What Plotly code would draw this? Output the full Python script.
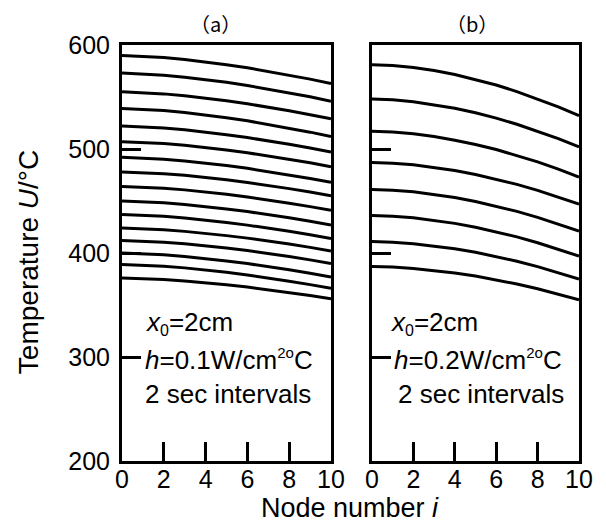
import plotly.graph_objects as go

# ---------------- data ----------------
nodes = [0, 1, 2, 3, 4, 5, 6, 7, 8, 9, 10]
x_ticks = [0, 2, 4, 6, 8, 10]
y_ticks = [200, 300, 400, 500, 600]

# panel (a): h = 0.1 W/cm2C, one curve every 2 s
a01 = [590, 589.3, 588, 586.1, 583.8, 581.1, 578.1, 574.7, 571.1, 567.2, 563]
a02 = [573, 572.3, 571, 569.1, 566.8, 564.1, 561.1, 557.7, 554.1, 550.2, 546]
a03 = [555, 554.3, 553, 551.2, 549, 546.4, 543.5, 540.3, 536.8, 533, 529]
a04 = [539, 538.3, 537, 535.1, 532.8, 530.1, 527.1, 523.7, 520.1, 516.2, 512]
a05 = [522, 521.4, 520.1, 518.4, 516.2, 513.8, 511, 507.9, 504.5, 500.9, 497]
a06 = [507, 506.4, 505.2, 503.5, 501.5, 499.1, 496.4, 493.4, 490.2, 486.7, 483]
a07 = [492, 491.4, 490.2, 488.5, 486.5, 484.1, 481.4, 478.4, 475.2, 471.7, 468]
a08 = [478, 477.4, 476.3, 474.7, 472.7, 470.4, 467.8, 465, 461.9, 458.6, 455]
a09 = [464, 463.4, 462.3, 460.7, 458.7, 456.4, 453.8, 451, 447.9, 444.6, 441]
a10 = [450, 449.4, 448.3, 446.7, 444.7, 442.4, 439.8, 437, 433.9, 430.6, 427]
a11 = [437, 436.4, 435.3, 433.7, 431.7, 429.4, 426.8, 424, 420.9, 417.6, 414]
a12 = [424, 423.5, 422.3, 420.8, 418.9, 416.7, 414.3, 411.6, 408.6, 405.4, 402]
a13 = [412, 411.5, 410.3, 408.8, 406.9, 404.7, 402.3, 399.6, 396.6, 393.4, 390]
a14 = [400, 399.4, 398.3, 396.7, 394.7, 392.4, 389.8, 387, 383.9, 380.6, 377]
a15 = [389, 388.4, 387.3, 385.7, 383.7, 381.4, 378.8, 376, 372.9, 369.6, 366]
a16 = [376, 375.5, 374.5, 373.1, 371.4, 369.4, 367.2, 364.7, 362, 359.1, 356]

# panel (b): h = 0.2 W/cm2C, one curve every 2 s
b01 = [581, 580.2, 578.3, 575.4, 571.6, 566.9, 561.5, 555.2, 548.2, 540.5, 532]
b02 = [548, 547.3, 545.5, 542.7, 539.2, 534.8, 529.7, 523.8, 517.2, 510, 502]
b03 = [517, 516.3, 514.6, 512, 508.5, 504.4, 499.5, 493.8, 487.6, 480.6, 473]
b04 = [487, 486.4, 484.8, 482.4, 479.3, 475.5, 471.1, 466, 460.2, 453.9, 447]
b05 = [461, 460.4, 458.8, 456.4, 453.3, 449.5, 445.1, 440, 434.2, 427.9, 421]
b06 = [436, 435.4, 433.8, 431.5, 428.5, 424.8, 420.4, 415.5, 409.9, 403.7, 397]
b07 = [411, 410.4, 409, 406.9, 404.1, 400.7, 396.6, 392.1, 386.9, 381.2, 375]
b08 = [387, 386.5, 385.2, 383.3, 380.8, 377.8, 374.2, 370.2, 365.6, 360.5, 355]

curves_a = [a01, a02, a03, a04, a05, a06, a07, a08,
            a09, a10, a11, a12, a13, a14, a15, a16]
curves_b = [b01, b02, b03, b04, b05, b06, b07, b08]

SUB0 = "<sub><span style='font-size:16px'>0</span></sub>"
SUP = "<sup><span style='font-size:15px'>2o</span></sup>"
lines_a = ["<i>x</i>" + SUB0 + "=2cm", "<i>h</i>=0.1W/cm" + SUP + "C", "2 sec intervals"]
lines_b = ["<i>x</i>" + SUB0 + "=2cm", "<i>h</i>=0.2W/cm" + SUP + "C", "2 sec intervals"]
text_y = [333, 298, 264]
text_xa = [1.0, 1.0, 1.0]
text_xb = [0.75, 0.95, 1.14]

# ---------------- figure ----------------
# the page body keeps its default 8 px margin, so the figure is 8 px smaller
FONT = "Liberation Sans, Arial, sans-serif"
fig = go.Figure()

for c in curves_a:
    fig.add_trace(go.Scatter(x=nodes, y=c, mode="lines", xaxis="x", yaxis="y",
                             line=dict(color="black", width=3), showlegend=False,
                             hoverinfo="skip"))
for c in curves_b:
    fig.add_trace(go.Scatter(x=nodes, y=c, mode="lines", xaxis="x2", yaxis="y2",
                             line=dict(color="black", width=3), showlegend=False,
                             hoverinfo="skip"))

axis_common = dict(showline=True, linecolor="black", linewidth=3, mirror=True,
                   showgrid=False, zeroline=False, ticks="inside", ticklen=19,
                   tickwidth=3, tickcolor="black",
                   tickfont=dict(family=FONT, size=25, color="black"))

fig.update_layout(
    width=598, height=518,
    margin=dict(l=114, r=27, t=37, b=65, autoexpand=False),
    paper_bgcolor="white", plot_bgcolor="white",
    xaxis=dict(domain=[0, 0.4573], range=[0, 10], tickvals=x_ticks,
               anchor="y", ticklabelstandoff=-6, **axis_common),
    yaxis=dict(domain=[0, 1], range=[200, 600], tickvals=y_ticks,
               anchor="x", ticklabelstandoff=4, **axis_common),
    xaxis2=dict(domain=[0.547, 1], range=[0, 10], tickvals=x_ticks,
                anchor="y2", ticklabelstandoff=-6, **axis_common),
    yaxis2=dict(domain=[0, 1], range=[200, 600], tickvals=y_ticks,
                anchor="x2", showticklabels=False, **axis_common),
)

ann = []
for t, xx, yy in zip(lines_a, text_xa, text_y):
    ann.append(dict(x=xx, y=yy, xref="x", yref="y", text=t, showarrow=False,
                    xanchor="left", yanchor="middle",
                    font=dict(family=FONT, size=26, color="black")))
for t, xx, yy in zip(lines_b, text_xb, text_y):
    ann.append(dict(x=xx, y=yy, xref="x2", yref="y2", text=t, showarrow=False,
                    xanchor="left", yanchor="middle",
                    font=dict(family=FONT, size=26, color="black")))

# panel labels
ann.append(dict(x=0.205, y=1.0505, xref="paper", yref="paper", text="（a）",
                showarrow=False, xanchor="center", yanchor="middle",
                font=dict(family="Noto Sans CJK SC, Liberation Serif", size=20, color="black")))
ann.append(dict(x=0.766, y=1.0505, xref="paper", yref="paper", text="（b）",
                showarrow=False, xanchor="center", yanchor="middle",
                font=dict(family="Noto Sans CJK SC, Liberation Serif", size=20, color="black")))
# axis titles
ann.append(dict(x=0.499, y=-0.113, xref="paper", yref="paper",
                text="Node number <i>i</i>", showarrow=False,
                xanchor="center", yanchor="middle",
                font=dict(family=FONT, size=27, color="black")))
ann.append(dict(x=-0.2057, y=0.478, xref="paper", yref="paper",
                text="Temperature <i>U</i>/°C", showarrow=False, textangle=-90,
                xanchor="center", yanchor="middle",
                font=dict(family=FONT, size=28, color="black")))

fig.update_layout(annotations=ann)
fig.write_html("out.html")
